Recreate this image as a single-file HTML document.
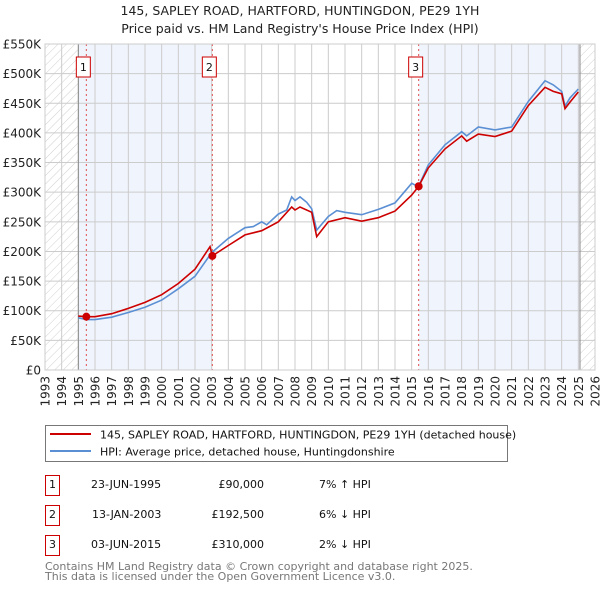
<!DOCTYPE html>
<html><head><meta charset="utf-8"><style>
body{margin:0;background:#fff;font-family:"DejaVu Sans","Liberation Sans",sans-serif;}
svg text{font-family:"DejaVu Sans","Liberation Sans",sans-serif;}
</style></head><body>
<svg id="c" width="600" height="590" viewBox="0 0 600 590" xmlns="http://www.w3.org/2000/svg">
<defs><pattern id="hatch" patternUnits="userSpaceOnUse" width="6" height="6" patternTransform="rotate(45)"><line x1="0" y1="0" x2="0" y2="6" stroke="#bbb" stroke-width="0.7"/></pattern></defs>
<text x="300" y="15" text-anchor="middle" font-size="12.5" fill="#222">145, SAPLEY ROAD, HARTFORD, HUNTINGDON, PE29 1YH</text>
<text x="300" y="33" text-anchor="middle" font-size="12.5" fill="#222">Price paid vs. HM Land Registry's House Price Index (HPI)</text>
<g id="plot"></g>
<g>
<rect x="45.5" y="425.5" width="462" height="36" fill="#fff" stroke="#777"/>
<line x1="50" y1="434" x2="91" y2="434" stroke="#cc0000" stroke-width="2"/>
<text x="100" y="438.5" font-size="11" fill="#111">145, SAPLEY ROAD, HARTFORD, HUNTINGDON, PE29 1YH (detached house)</text>
<line x1="50" y1="451" x2="91" y2="451" stroke="#5b8fd4" stroke-width="2"/>
<text x="100" y="455.5" font-size="11" fill="#111">HPI: Average price, detached house, Huntingdonshire</text>
</g>
<g font-size="11" fill="#111">
<rect x="45.5" y="475.5" width="14" height="20" fill="#fff" stroke="#cc0000"/><text x="52.5" y="488" text-anchor="middle">1</text>
<text x="91" y="488">23-JUN-1995</text><text x="264" y="488" text-anchor="end">£90,000</text><text x="319" y="488">7% ↑ HPI</text>
<rect x="45.5" y="505.5" width="14" height="20" fill="#fff" stroke="#cc0000"/><text x="52.5" y="518" text-anchor="middle">2</text>
<text x="92" y="518">13-JAN-2003</text><text x="264" y="518" text-anchor="end">£192,500</text><text x="319" y="518">6% ↓ HPI</text>
<rect x="45.5" y="535.5" width="14" height="20" fill="#fff" stroke="#cc0000"/><text x="52.5" y="548" text-anchor="middle">3</text>
<text x="91" y="548">03-JUN-2015</text><text x="264" y="548" text-anchor="end">£310,000</text><text x="319" y="548">2% ↓ HPI</text>
</g>
<text x="45" y="570" font-size="11" fill="#777">Contains HM Land Registry data © Crown copyright and database right 2025.</text>
<text x="45" y="580" font-size="11" fill="#777">This data is licensed under the Open Government Licence v3.0.</text>
</svg>
<script>
const hpiYears=[1995.0,1995.5,1996,1997,1998,1999,2000,2001,2002,2003,2003.5,2004,2005,2005.5,2006,2006.3,2007,2007.5,2007.8,2008,2008.3,2008.7,2009,2009.3,2010,2010.5,2011,2012,2013,2014,2015,2015.4,2016,2017,2018,2018.3,2019,2020,2021,2022,2023,2023.5,2024,2024.2,2024.5,2025];
const hpiValues=[88,85,85,89,97,106,118,137,158,198,210,222,240,242,250,245,263,270,292,286,292,283,272,236,259,269,266,262,271,282,315,309,346,380,402,395,410,405,410,453,488,481,470,445,459,474];
const propYears=[1995.0,1995.5,1996,1997,1998,1999,2000,2001,2002,2002.9,2003.04,2004,2005,2006,2007,2007.8,2008,2008.3,2009,2009.3,2010,2011,2012,2013,2014,2015,2015.42,2016,2017,2018,2018.3,2019,2020,2021,2022,2023,2023.5,2024,2024.2,2024.5,2025];
const propValues=[91,90,90,95,104,114,127,146,170,208,192.5,210,228,235,250,275,270,275,266,225,250,257,251,257,268,295,310,341,373,395,386,398,394,403,446,477,470,466,441,452,469];
const saleYears=[1995.48,2003.04,2015.42];
const saleValues=[90,192.5,310];
const saleLabels=["1","2","3"];
const yTicks=[0,50,100,150,200,250,300,350,400,450,500,550];
const yTickLabels=["£0","£50K","£100K","£150K","£200K","£250K","£300K","£350K","£400K","£450K","£500K","£550K"];
const x0=45,x1=595,y0=370,y1=44,yMin=1993,yMax=2026,vMax=550;
const X=t=>x0+(t-yMin)/(yMax-yMin)*(x1-x0);
const Y=v=>y0-v/vMax*(y0-y1);
const NS="http://www.w3.org/2000/svg";
const g=document.getElementById('plot');
function el(tag,attrs,parent){const e=document.createElementNS(NS,tag);for(const k in attrs)e.setAttribute(k,attrs[k]);(parent||g).appendChild(e);return e;}
let r;
r=el('rect',{x:X(1995),y:y1,width:X(2003.04)-X(1995),height:y0-y1,fill:'#f0f4fc'});


r=el('rect',{x:X(2015.42),y:y1,width:X(2025.1)-X(2015.42),height:y0-y1,fill:'#f0f4fc'});


r=el('rect',{x:X(1993),y:y1,width:X(1995)-X(1993),height:y0-y1,fill:'url(#hatch)'});


r=el('rect',{x:X(2025.1),y:y1,width:X(2026)-X(2025.1),height:y0-y1,fill:'url(#hatch)'});


for(let yr=yMin;yr<=yMax;yr++){
  const l=el('line',{x1:X(yr),x2:X(yr),y1:y1,y2:y0,stroke:'#cccccc','stroke-width':1});
  
  
  const t=el('text',{x:0,y:0,'font-size':12,fill:'#222','text-anchor':'end',transform:`translate(${X(yr)+4.5},${y0+6}) rotate(-90)`});
  t.textContent=yr;
  
  
}
yTicks.forEach((v,i)=>{
  const l=el('line',{x1:x0,x2:x1,y1:Y(v),y2:Y(v),stroke:'#cccccc','stroke-width':1});
  
  
  const t=el('text',{x:x0-4,y:Y(v)+4.5,'font-size':12,fill:'#222','text-anchor':'end'});
  t.textContent=yTickLabels[i];
  
  
});
r=el('line',{x1:X(1995),x2:X(1995),y1:y1,y2:y0,stroke:'#888','stroke-width':1});


r=el('line',{x1:X(2025.1),x2:X(2025.1),y1:y1,y2:y0,stroke:'#888','stroke-width':1});


saleYears.forEach((yr,i)=>{
  const l=el('line',{x1:X(yr),x2:X(yr),y1:y1,y2:y0,stroke:'#e05050','stroke-width':1,'stroke-dasharray':'2,3'});
  
  
});
function pts(xs,vs){return xs.map((t,i)=>X(t).toFixed(1)+','+Y(vs[i]).toFixed(1)).join(' ');}
r=el('polyline',{points:pts(hpiYears,hpiValues),fill:'none',stroke:'#5b8fd4','stroke-width':1.6});


r=el('polyline',{points:pts(propYears,propValues),fill:'none',stroke:'#cc0000','stroke-width':1.6});


saleYears.forEach((yr,i)=>{
  const c=el('circle',{cx:X(yr),cy:Y(saleValues[i]),r:4,fill:'#cc0000'});
  
  
  const b=el('rect',{x:X(yr)-10,y:57,width:14,height:20,fill:'#fff',stroke:'#cc0000'});
  
  
  const t=el('text',{x:X(yr)-3,y:71,'font-size':11,fill:'#111','text-anchor':'middle'});
  t.textContent=saleLabels[i];
  
  
});
r=el('rect',{x:x0,y:y1,width:x1-x0,height:y0-y1,fill:'none',stroke:'#ccc'});


</script>
</body></html>
